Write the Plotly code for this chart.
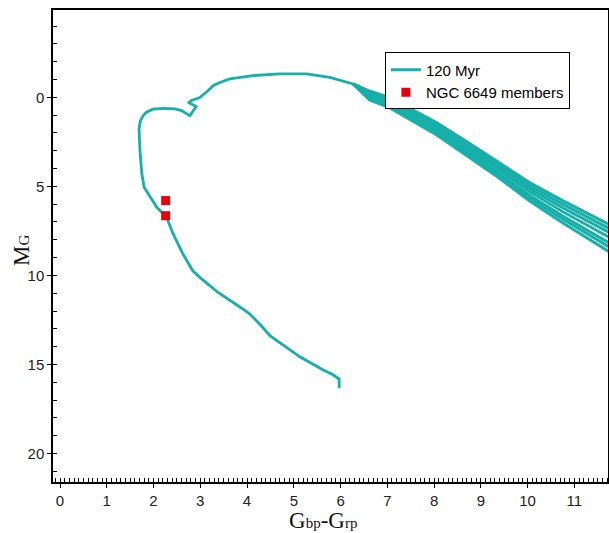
import plotly.graph_objects as go

# Isochrone (120 Myr): shared path from faint end up to the turn and peak
iso_x = [5.97, 5.97, 5.84, 5.63, 5.13, 4.84, 4.49, 4.27, 4.06, 3.88, 3.70, 3.38,
         2.99, 2.84, 2.63, 2.42, 2.28, 2.07, 1.89, 1.80, 1.75, 1.71, 1.69, 1.72,
         1.78, 1.85, 1.99, 2.21, 2.46, 2.60, 2.71, 2.78, 2.91, 2.76, 2.80, 2.99,
         3.17, 3.28, 3.42, 3.63, 4.13, 4.70, 5.27, 5.77, 6.27]
iso_y = [16.33, 15.82, 15.58, 15.31, 14.57, 14.04, 13.39, 12.73, 12.17, 11.83,
         11.52, 10.96, 10.11, 9.74, 8.80, 7.67, 6.74, 6.18, 5.43, 5.06, 4.30,
         2.99, 1.76, 1.31, 1.03, 0.84, 0.67, 0.62, 0.65, 0.75, 0.93, 1.03, 0.52,
         0.30, 0.19, 0.02, -0.38, -0.66, -0.83, -1.03, -1.22, -1.31, -1.31,
         -1.12, -0.75]

# Red branch: several diverging tracks
band_x = [6.27, 6.62, 7.05, 7.54, 8.05, 8.76, 9.34, 10.04, 10.75, 11.85]
band_y1 = [-0.75, -0.35, 0.02, 0.72, 1.42, 2.60, 3.59, 4.79, 5.80, 7.28]
band_y2 = [-0.75, -0.27, 0.10, 0.83, 1.54, 2.74, 3.73, 4.96, 6.00, 7.50]
band_y3 = [-0.75, -0.18, 0.22, 0.92, 1.65, 2.88, 3.87, 5.13, 6.20, 7.73]
band_y4 = [-0.75, -0.10, 0.30, 1.03, 1.76, 2.99, 4.01, 5.30, 6.42, 8.01]
band_y5 = [-0.75, -0.02, 0.38, 1.14, 1.87, 3.13, 4.18, 5.50, 6.67, 8.34]
band_y6 = [-0.75, 0.07, 0.50, 1.23, 1.98, 3.24, 4.29, 5.64, 6.84, 8.57]
band_y7 = [-0.75, 0.15, 0.58, 1.34, 2.10, 3.38, 4.43, 5.81, 7.04, 8.85]

# NGC 6649 members
mem_x = [2.26, 2.26]
mem_y = [5.80, 6.65]

teal = "#17AFAA"
red = "#E8000B"

fig = go.Figure()
for by in [band_y1, band_y2, band_y3, band_y5, band_y6, band_y7]:
    fig.add_trace(go.Scatter(x=band_x, y=by, mode="lines",
                             line=dict(color=teal, width=3),
                             showlegend=False, hoverinfo="skip"))

fig.add_trace(go.Scatter(x=iso_x + band_x[1:], y=iso_y + band_y4[1:],
                         mode="lines", name="120 Myr",
                         line=dict(color=teal, width=2.8)))
fig.add_trace(go.Scatter(x=mem_x, y=mem_y, mode="markers",
                         name="NGC 6649 members",
                         marker=dict(symbol="square", size=9, color=red)))

tickfont = dict(family="Liberation Sans, Arial", size=15, color="#222222")
titlefont = dict(family="Liberation Serif, Times New Roman", size=23, color="#111111")

fig.update_layout(
    width=609, height=533,
    margin=dict(l=53, r=1, t=10, b=51),
    paper_bgcolor="white", plot_bgcolor="white",
    showlegend=True,
    legend=dict(x=0.598, y=0.91, xanchor="left", yanchor="top",
                bordercolor="black", borderwidth=1, bgcolor="white",
                font=dict(family="Liberation Sans, Arial", size=15, color="black"),
                tracegroupgap=0, itemwidth=30),
    xaxis=dict(range=[-0.15, 11.72], tickmode="linear", tick0=0, dtick=1,
               ticks="outside", ticklen=4, tickwidth=1.2, tickcolor="black",
               showline=True, linecolor="black", linewidth=1.5, mirror=True,
               showgrid=False, zeroline=False, tickfont=tickfont, automargin=False,
               minor=dict(dtick=0.1, ticks="inside", ticklen=4, tickcolor="black",
                          tickwidth=1, showgrid=False)),
    yaxis=dict(range=[21.6, -4.9], tickmode="linear", tick0=0, dtick=5,
               ticks="outside", ticklen=4, tickwidth=1.2, tickcolor="black",
               showline=True, linecolor="black", linewidth=1.5, mirror=True,
               showgrid=False, zeroline=False, tickfont=tickfont, automargin=False,
               minor=dict(dtick=1, ticks="inside", ticklen=4, tickcolor="black",
                          tickwidth=1, showgrid=False)),
    annotations=[
        dict(text="G<span style='font-size:15px'>bp</span>-G<span style='font-size:15px'>rp</span>",
             xref="paper", yref="paper", x=0.486, y=-0.081,
             xanchor="center", yanchor="middle", showarrow=False, font=titlefont),
        dict(text="M<span style='font-size:15px'>G</span>",
             xref="paper", yref="paper", x=-0.058, y=0.491, textangle=-90,
             xanchor="center", yanchor="middle", showarrow=False, font=titlefont),
    ],
)

fig.write_html("out.html", config={"displayModeBar": False},
               post_script="document.body.style.margin='0';document.body.style.overflow='hidden';")
